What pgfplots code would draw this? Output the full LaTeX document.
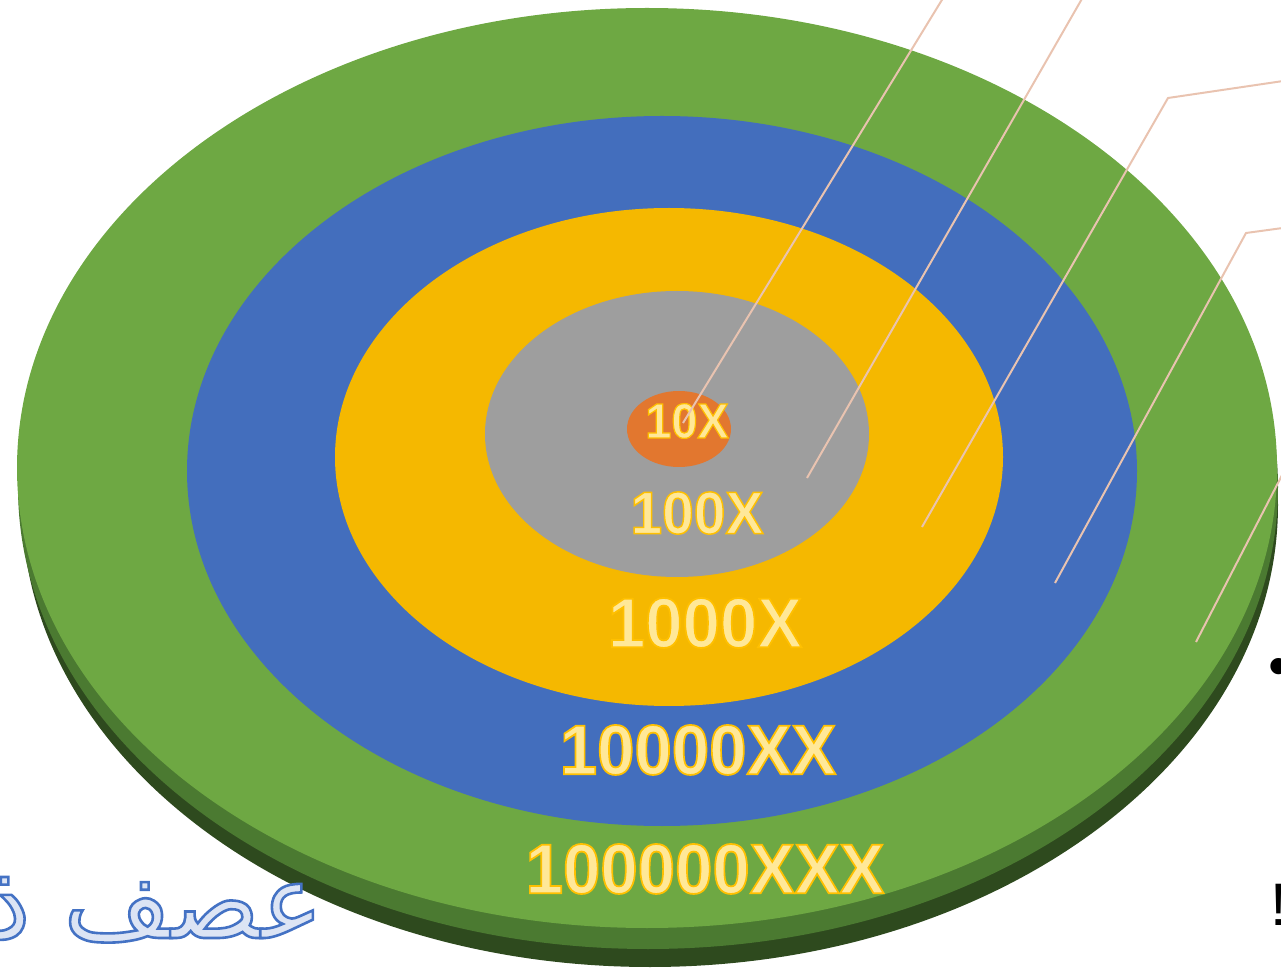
\documentclass[border=0pt]{standalone}
\usepackage{pgfplots}
\pgfplotsset{compat=1.18}
\usepackage{fontspec}
\setmainfont{Liberation Sans}
\newfontfamily\labelfont{Liberation Sans}[RawFeature={embolden=2.5}]
\newfontfamily\arabicfont{DejaVu Sans}[Script=Arabic, RawFeature={embolden=2.5}]
\TeXXeTstate=1

\definecolor{ringgreen}{HTML}{6EA843}
\definecolor{rimgreen}{HTML}{4B7A31}
\definecolor{sidegreen}{HTML}{2E4A1E}
\definecolor{ringblue}{HTML}{436EBD}
\definecolor{ringgold}{HTML}{F5B800}
\definecolor{ringgray}{HTML}{9E9E9E}
\definecolor{ringorange}{HTML}{E2772F}
\definecolor{leader}{HTML}{E9C3B0}
\definecolor{txtfill}{HTML}{FFE898}
\definecolor{arabicfill}{HTML}{DCE4F4}

% fill in txtfill, outline (stroke) in gold FFC000
\newcommand{\ringlabel}[2]{{\fontsize{#1}{#1}\labelfont\bfseries\color{txtfill}\special{pdf:code 1 0.753 0 RG}#2}}

\begin{document}
\begin{tikzpicture}
\begin{axis}[
    scale only axis,
    width=640.5pt, height=486.5pt,
    xmin=0, xmax=1281, ymin=0, ymax=973,
    y dir=reverse,
    hide axis,
    clip=true
]
% disc: side, rim, top (centre x, centre y, x radius, y radius in pixels)
\fill[sidegreen]  (axis cs:650,505) ellipse [x radius=628, y radius=462];
\fill[rimgreen]   (axis cs:648,487) ellipse [x radius=630, y radius=462];
\fill[ringgreen]  (axis cs:647,468) ellipse [x radius=630, y radius=460];
% rings
\fill[ringblue]   (axis cs:662,471) ellipse [x radius=475, y radius=355];
\fill[ringgold]   (axis cs:669,457) ellipse [x radius=334, y radius=249];
\fill[ringgray]   (axis cs:677,434) ellipse [x radius=192, y radius=143];
\fill[ringorange] (axis cs:679,429) ellipse [x radius=52, y radius=38];

% labels
\node[inner sep=0, yscale=1.05] at (axis cs:687,421) {\ringlabel{23.4pt}{10X}};
\node[inner sep=0, yscale=1.05] at (axis cs:697,513) {\ringlabel{28.5pt}{100X}};
\node[inner sep=0, yscale=1.05] at (axis cs:705,623) {\ringlabel{33.6pt}{1000X}};
\node[inner sep=0, yscale=1.05] at (axis cs:698,750) {\ringlabel{33.6pt}{10000XX}};
\node[inner sep=0, yscale=1.05] at (axis cs:705,869) {\ringlabel{33.6pt}{100000XXX}};

% leader lines
\addplot[leader, line width=1pt] coordinates {(683,423) (948,-10)};
\addplot[leader, line width=1pt] coordinates {(807,478) (1087,-10)};
\addplot[leader, line width=1pt] coordinates {(922,527) (1168,98) (1290,80)};
\addplot[leader, line width=1pt] coordinates {(1055,583) (1246,233) (1290,227)};
\addplot[leader, line width=1pt] coordinates {(1196,642) (1295,450)};

% slide fragments
\node[anchor=base east, inner sep=0] at (axis cs:324,938)
  {\fontsize{52pt}{60pt}\arabicfont\color{arabicfill}\special{pdf:code 0.267 0.447 0.769 RG}\beginR عصف ذهني\endR};
\node[anchor=west, inner sep=0] at (axis cs:1268,672) {\fontsize{30pt}{30pt}\selectfont •};
\node[anchor=base west, inner sep=0] at (axis cs:1270,925) {\fontsize{30pt}{30pt}\selectfont !};
\end{axis}
\pgfresetboundingbox
\useasboundingbox (current axis.south west) rectangle (current axis.north east);
\end{tikzpicture}
\end{document}
